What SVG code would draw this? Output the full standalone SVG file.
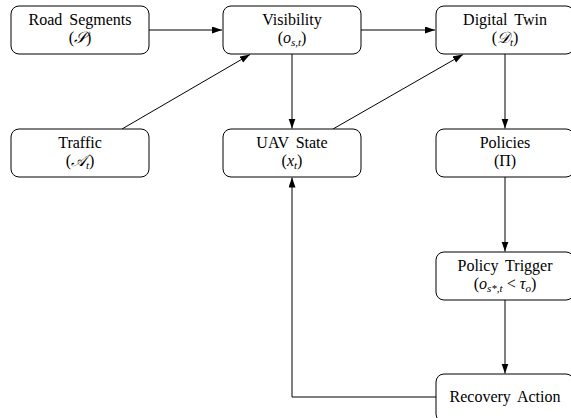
<svg xmlns="http://www.w3.org/2000/svg" width="571" height="418" viewBox="0 0 571 418">
<style>
.box{fill:#fff;stroke:#000;stroke-width:1;}
.c{fill:none;stroke:#000;stroke-width:1;}
text{font-family:"Liberation Serif","Times New Roman",serif;font-size:16px;fill:#000;text-anchor:middle;word-spacing:3px;}
.m{font-style:italic;}
.sub{font-style:italic;font-size:11px;}
</style>
<defs>
<marker id="ah" markerUnits="userSpaceOnUse" markerWidth="10" markerHeight="8" refX="10" refY="3.5" orient="auto">
<path d="M0,0 L10,3.5 L0,7 z" fill="#000"/>
</marker>
</defs>
<g id="connectors">
<line class="c" x1="149" y1="30" x2="222" y2="30" marker-end="url(#ah)"/>
<line class="c" x1="361" y1="30" x2="435" y2="30" marker-end="url(#ah)"/>
<line class="c" x1="122" y1="129" x2="250" y2="54.5" marker-end="url(#ah)"/>
<line class="c" x1="292" y1="54" x2="292" y2="128.5" marker-end="url(#ah)"/>
<line class="c" x1="333" y1="129" x2="463" y2="54.5" marker-end="url(#ah)"/>
<line class="c" x1="505" y1="54" x2="505" y2="128.5" marker-end="url(#ah)"/>
<line class="c" x1="505" y1="177" x2="505" y2="251.5" marker-end="url(#ah)"/>
<line class="c" x1="505" y1="300" x2="505" y2="373.5" marker-end="url(#ah)"/>
<polyline class="c" points="436,397 292,397 292,177.5" marker-end="url(#ah)"/>
</g>
<g id="road">
<rect class="box" x="11" y="6" width="138" height="48" rx="8"/>
<text x="80" y="25">Road Segments</text>
<text x="80" y="43">(<tspan class="m">𝒮</tspan>)</text>
</g>
<g id="visibility">
<rect class="box" x="223" y="6" width="138" height="48" rx="8"/>
<text x="292" y="25">Visibility</text>
<text x="292" y="43">(<tspan class="m">o</tspan><tspan class="sub" dy="3">s,t</tspan><tspan dy="-3">)</tspan></text>
</g>
<g id="twin">
<rect class="box" x="436" y="6" width="138" height="48" rx="8"/>
<text x="505" y="25">Digital Twin</text>
<text x="505" y="43">(<tspan class="m">𝒟</tspan><tspan class="sub" dy="3">t</tspan><tspan dy="-3">)</tspan></text>
</g>
<g id="traffic">
<rect class="box" x="11" y="129" width="138" height="48" rx="8"/>
<text x="80" y="148">Traffic</text>
<text x="80" y="166">(<tspan class="m">𝒜</tspan><tspan class="sub" dy="3">t</tspan><tspan dy="-3">)</tspan></text>
</g>
<g id="uav">
<rect class="box" x="223" y="129" width="138" height="48" rx="8"/>
<text x="292" y="148">UAV State</text>
<text x="292" y="166">(<tspan class="m">x</tspan><tspan class="sub" dy="3">t</tspan><tspan dy="-3">)</tspan></text>
</g>
<g id="policies">
<rect class="box" x="436" y="129" width="138" height="48" rx="8"/>
<text x="505" y="148">Policies</text>
<text x="505" y="166">(Π)</text>
</g>
<g id="trigger">
<rect class="box" x="436" y="252" width="138" height="48" rx="8"/>
<text x="505" y="271">Policy Trigger</text>
<text x="505" y="289">(<tspan class="m">o</tspan><tspan class="sub" dy="3">s*,t</tspan><tspan dy="-3" word-spacing="0"> &lt; </tspan><tspan class="m">τ</tspan><tspan class="sub" dy="3">o</tspan><tspan dy="-3">)</tspan></text>
</g>
<g id="recovery">
<rect class="box" x="436" y="374" width="138" height="48" rx="8"/>
<text x="505" y="402">Recovery Action</text>
</g>
</svg>
